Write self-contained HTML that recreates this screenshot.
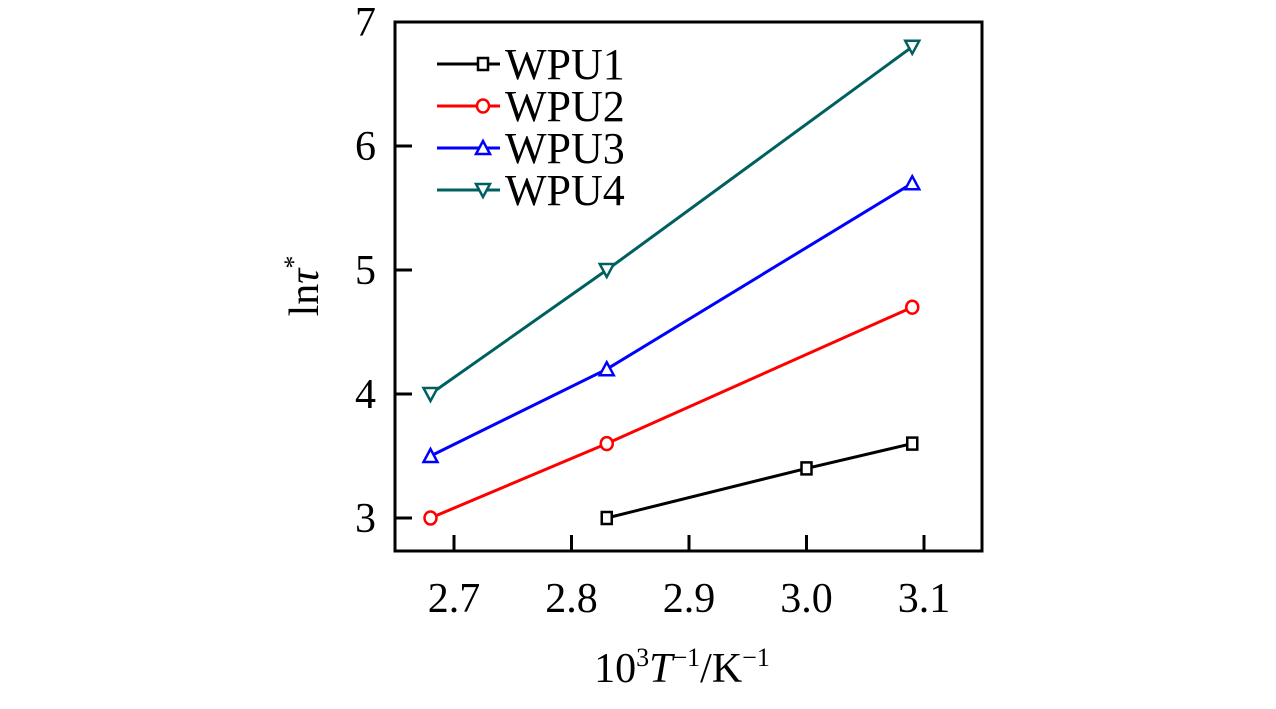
<!DOCTYPE html>
<html><head><meta charset="utf-8"><style>
html,body{margin:0;padding:0;background:#fff;width:1276px;height:709px;overflow:hidden}
svg text{font-family:"Liberation Serif",serif;fill:#000}
</style></head><body>
<svg id="chart" width="1276" height="709">
<rect x="395" y="22" width="587" height="529" fill="none" stroke="#000" stroke-width="3"/>
<g id="axes"></g><g id="series"></g><g id="legend"></g>
<text x="682" y="682" font-size="42" text-anchor="middle">10<tspan dy="-16" font-size="26">3</tspan><tspan dy="16" font-style="italic">T</tspan><tspan dy="-16" font-size="26">−1</tspan><tspan dy="16">/K</tspan><tspan dy="-16" font-size="26">−1</tspan></text>
<text transform="translate(318,286) rotate(-90)" font-size="42" text-anchor="middle">ln<tspan font-style="italic">τ</tspan><tspan dy="-16" font-size="26">*</tspan></text>
</svg>
<script>
const xTicks=[2.7,2.8,2.9,3.0,3.1];
const xTickLabels=["2.7","2.8","2.9","3.0","3.1"];
const yTicks=[3,4,5,6,7];
const yTickLabels=["3","4","5","6","7"];
const seriesNames=["WPU1","WPU2","WPU3","WPU4"];
const seriesColors=["#000000","#ff0000","#0000ff","#006060"];
const seriesMarkers=["square","circle","triangle","invtriangle"];
const wpu1X=[2.83,3.0,3.09], wpu1Y=[3.0,3.4,3.6];
const wpu2X=[2.68,2.83,3.09], wpu2Y=[3.0,3.6,4.7];
const wpu3X=[2.68,2.83,3.09], wpu3Y=[3.5,4.2,5.7];
const wpu4X=[2.68,2.83,3.09], wpu4Y=[4.0,5.0,6.8];
const xs=[wpu1X,wpu2X,wpu3X,wpu4X], ys=[wpu1Y,wpu2Y,wpu3Y,wpu4Y];
const NS="http://www.w3.org/2000/svg";
const sx=v=>454+(v-2.7)*1175;
const sy=v=>518-(v-3)*124;
function mk(tag,at,parent){const e=document.createElementNS(NS,tag);for(const k in at)e.setAttribute(k,at[k]);parent.appendChild(e);return e;}
const axes=document.getElementById('axes');
xTicks.forEach((t,i)=>{
 const l=mk('line',{x1:sx(t),x2:sx(t),y1:551,y2:535,stroke:'#000','stroke-width':3},axes);
 
 
 const tx=mk('text',{x:sx(t),y:612,'font-size':42,'text-anchor':'middle'},axes);tx.textContent=xTickLabels[i];
 
 
});
yTicks.forEach((t,i)=>{
 const l=mk('line',{x1:395,x2:412,y1:sy(t),y2:sy(t),stroke:'#000','stroke-width':3},axes);
 
 
 const tx=mk('text',{x:376,y:sy(t)+14,'font-size':42,'text-anchor':'end'},axes);tx.textContent=yTickLabels[i];
 
 
});
function marker(type,x,y,c,p){
 let e;
 if(type==='square')e=mk('rect',{x:x-5,y:y-6,width:10,height:12,fill:'#fff',stroke:c,'stroke-width':2.5},p);
 else if(type==='circle')e=mk('ellipse',{cx:x,cy:y,rx:6,ry:6.5,fill:'#fff',stroke:c,'stroke-width':2.5},p);
 else if(type==='triangle')e=mk('polygon',{points:`${x},${y-7} ${x-7},${y+6} ${x+7},${y+6}`,fill:'#fff',stroke:c,'stroke-width':2.5},p);
 else e=mk('polygon',{points:`${x},${y+7} ${x-7},${y-6} ${x+7},${y-6}`,fill:'#fff',stroke:c,'stroke-width':2.5},p);
 return e;
}
const sg=document.getElementById('series');
seriesNames.forEach((n,i)=>{
 const c=seriesColors[i];
 const pl=mk('polyline',{points:xs[i].map((x,j)=>sx(x)+','+sy(ys[i][j])).join(' '),fill:'none',stroke:c,'stroke-width':3},sg);
 
 
 xs[i].forEach((x,j)=>{
  const m=marker(seriesMarkers[i],sx(x),sy(ys[i][j]),c,sg);
  
  
 });
});
const lg=document.getElementById('legend');
seriesNames.forEach((n,i)=>{
 const y=64+i*42,c=seriesColors[i];
 const l=mk('line',{x1:437,x2:500,y1:y,y2:y,stroke:c,'stroke-width':3},lg);
 
 
 const m=marker(seriesMarkers[i],483,y,c,lg);
 
 
 const t=mk('text',{x:505,y:y+15,'font-size':44},lg);t.textContent=n;
 
 
});
</script>
</body></html>
